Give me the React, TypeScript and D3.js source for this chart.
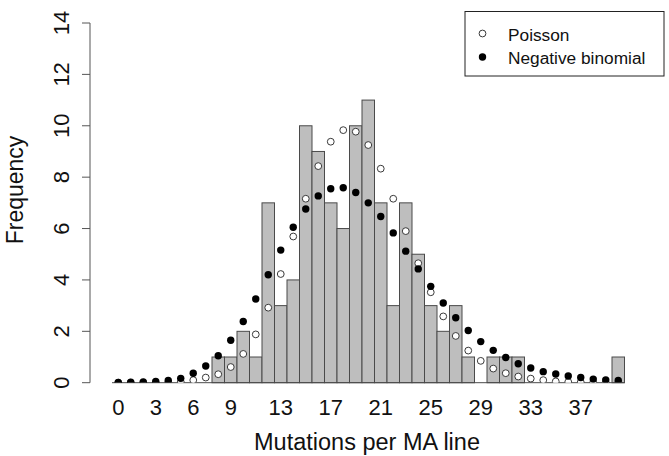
import React from 'react'
import * as d3 from 'd3'

// mutations per MA line, 0..40
const mutations = d3.range(0, 41)
// observed number of lines
const observed = [
  0, 0, 0, 0, 0, 0, 0, 0, 1, 1, 2, 1, 7, 3, 4, 10, 9, 7, 6, 10, 11, 7, 3, 7, 5,
  3, 2, 3, 1, 0, 1, 1, 1, 0, 0, 0, 0, 0, 0, 0, 1
]
// expected frequencies
const poisson = [
  0, 0, 0, 0, 0.01, 0.03, 0.1, 0.2, 0.33, 0.61, 1.12, 1.88, 2.92, 4.23, 5.69,
  7.16, 8.43, 9.38, 9.83, 9.77, 9.25, 8.33, 7.16, 5.9, 4.65, 3.52, 2.58, 1.82,
  1.25, 0.85, 0.55, 0.37, 0.24, 0.16, 0.1, 0.05, 0.03, 0.02, 0.01, 0, 0
]
const negBinomial = [
  0.01, 0.02, 0.03, 0.05, 0.09, 0.17, 0.37, 0.65, 1.05, 1.65, 2.38, 3.26, 4.2,
  5.16, 6.05, 6.76, 7.27, 7.55, 7.59, 7.4, 7.0, 6.47, 5.83, 5.12, 4.43, 3.75,
  3.1, 2.53, 2.03, 1.6, 1.26, 0.98, 0.74, 0.57, 0.43, 0.34, 0.26, 0.2, 0.14,
  0.11, 0.09
]
const xTickLabels = [0, 3, 6, 9, 13, 17, 21, 25, 29, 33, 37]
const yTickLabels = [0, 2, 4, 6, 8, 10, 12, 14]

const font = '"Liberation Sans", Arial, Helvetica, sans-serif'

export default function App() {
  const width = 669
  const height = 456

  const x = d3.scaleLinear().domain([-0.5, 40.5]).range([112, 624.5])
  const y = d3.scaleLinear().domain([0, 14]).range([382.7, 23])
  const bw = x(1) - x(0)

  return (
    <svg
      width={width}
      height={height}
      style={{ position: 'absolute', left: 0, top: 0, background: '#fff' }}
      fontFamily={font}
    >
      <defs>
        <clipPath id="plotClip">
          <rect x={90} y={0} width={width - 90} height={y(0)} />
        </clipPath>
      </defs>

      {/* bars */}
      {mutations.map((m, i) =>
        observed[i] > 0 ? (
          <rect
            key={'b' + m}
            x={x(m) - bw / 2}
            y={y(observed[i])}
            width={bw}
            height={y(0) - y(observed[i])}
            fill="#bebebe"
            stroke="#4a4a4a"
            strokeWidth={1}
          />
        ) : null
      )}
      <line
        x1={x(-0.5)}
        x2={x(40.5)}
        y1={y(0)}
        y2={y(0)}
        stroke="#4a4a4a"
        strokeWidth={1}
      />

      {/* fitted points */}
      <g clipPath="url(#plotClip)">
        {mutations.map((m, i) => (
          <circle
            key={'p' + m}
            cx={x(m)}
            cy={y(poisson[i])}
            r={3.4}
            fill="#fff"
            stroke="#3a3a3a"
            strokeWidth={1}
          />
        ))}
        {mutations.map((m, i) => (
          <circle
            key={'n' + m}
            cx={x(m)}
            cy={y(negBinomial[i])}
            r={3.7}
            fill="#000"
          />
        ))}
      </g>

      {/* y axis */}
      <line x1={90} x2={90} y1={y(0)} y2={y(14)} stroke="#555" />
      {yTickLabels.map((t) => (
        <g key={'y' + t}>
          <line x1={82} x2={90} y1={y(t)} y2={y(t)} stroke="#555" />
          <text
            transform={`translate(69,${y(t)}) rotate(-90)`}
            textAnchor="middle"
            fontSize={22}
            fill="#111"
          >
            {t}
          </text>
        </g>
      ))}
      <text
        transform="translate(23,190) rotate(-90)"
        textAnchor="middle"
        fontSize={23}
        fill="#111"
      >
        Frequency
      </text>

      {/* x axis labels */}
      {xTickLabels.map((t) => (
        <text
          key={'x' + t}
          x={x(t)}
          y={415}
          textAnchor="middle"
          fontSize={22}
          fill="#111"
        >
          {t}
        </text>
      ))}
      <text x={367} y={450} textAnchor="middle" fontSize={23.5} fill="#111">
        Mutations per MA line
      </text>

      {/* legend */}
      <rect
        x={465}
        y={11.5}
        width={199}
        height={64.5}
        fill="#fff"
        stroke="#222"
        strokeWidth={1}
      />
      <circle cx={482.5} cy={33.5} r={3.4} fill="#fff" stroke="#3a3a3a" />
      <circle cx={482.5} cy={57} r={3.7} fill="#000" />
      <text x={508} y={40.5} fontSize={17.3} fill="#111">
        Poisson
      </text>
      <text x={508} y={64} fontSize={17.3} fill="#111">
        Negative binomial
      </text>
    </svg>
  )
}
